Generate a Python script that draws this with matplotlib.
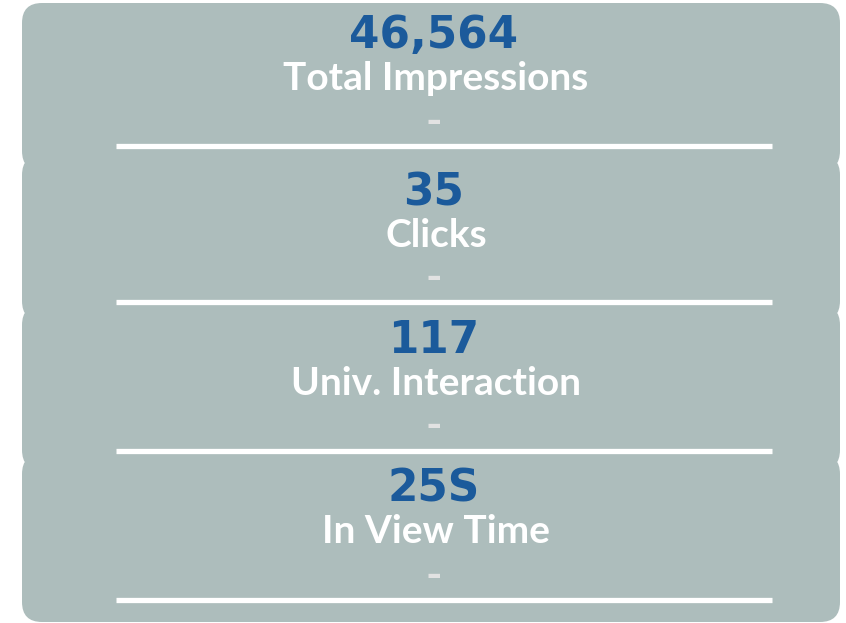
import matplotlib.pyplot as plt
from matplotlib.patches import FancyBboxPatch

values = ["46,564", "35", "117", "25S"]
labels = ["Total Impressions", "Clicks", "Univ. Interaction", "In View Time"]
changes = ["-", "-", "-", "-"]

# card layout in pixels (y down)
card_edges = [3, 163, 313, 462, 622]
num_base = [48, 205, 353, 502]
lab_base = [90, 247, 395, 543]
dash_y = [122, 278, 426, 576]
line_y = [145.5, 301.5, 450.5, 600]

card_col = "#adbdbc"
num_col = "#1b5a9b"

fig = plt.figure(figsize=(8.46, 6.23), dpi=100)
ax = fig.add_axes([0, 0, 1, 1])
ax.set_xlim(0, 846)
ax.set_ylim(623, 0)
ax.axis("off")

r = 20
for i in range(4):
    top = card_edges[i] - (0 if i == 0 else 8)
    bot = card_edges[i + 1] + (0 if i == 3 else 8)
    box = FancyBboxPatch((22 + r, top + r), 818 - 2 * r, bot - top - 2 * r,
                         boxstyle="round,pad=%d" % r, fc=card_col, ec="none",
                         zorder=1 + i)
    ax.add_patch(box)

for i in range(4):
    z = 10
    ax.text(434, num_base[i], values[i], ha="center", va="baseline",
            fontsize=31.5, fontweight="bold", family="DejaVu Sans",
            color=num_col, zorder=z)
    ax.text(436, lab_base[i], labels[i], ha="center", va="baseline",
            fontsize=28, fontweight="bold", family="Lato",
            color="white", zorder=z)
    ax.text(434, dash_y[i], changes[i], ha="center", va="center",
            fontsize=32, fontweight="bold", family="Lato",
            color="#e2e2e2", zorder=z)
    ax.plot([116, 772], [line_y[i], line_y[i]], color="white", lw=3.8,
            solid_capstyle="butt", zorder=z)

fig.savefig("out.png", dpi=100)
